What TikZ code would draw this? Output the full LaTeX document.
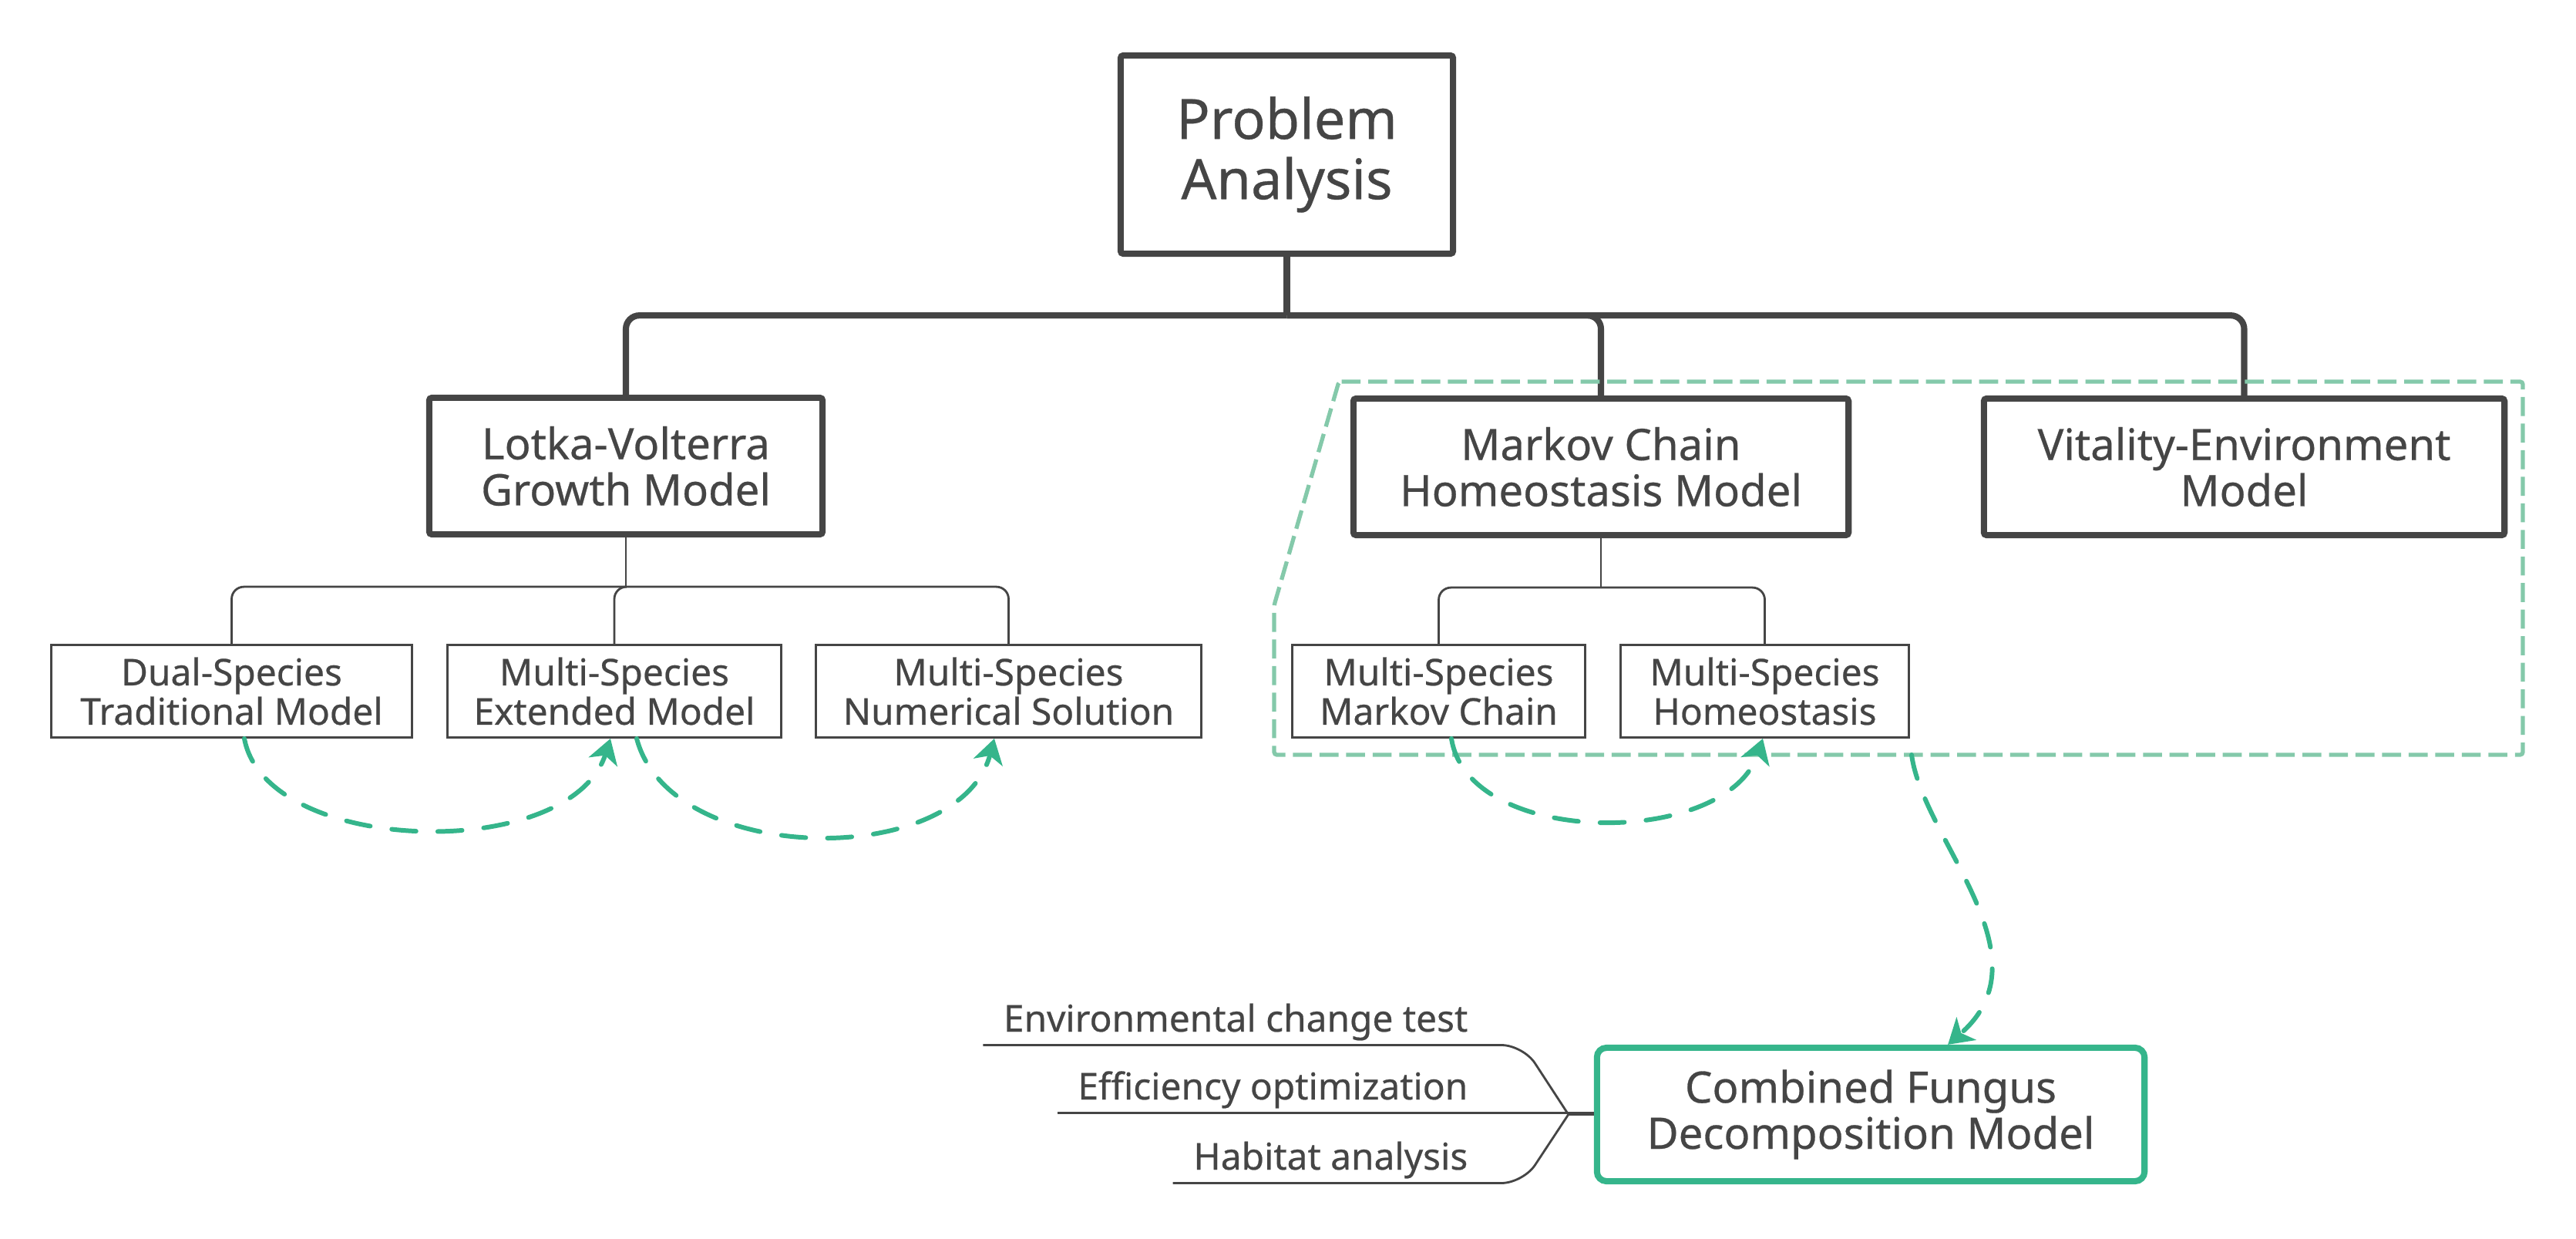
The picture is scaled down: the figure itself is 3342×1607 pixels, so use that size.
\documentclass[tikz,border=0pt]{standalone}
\usepackage{fontspec}
\setmainfont{Noto Sans}[FakeBold=0.5]
\usepackage{tikz}
\usetikzlibrary{arrows.meta,positioning,calc}
\definecolor{ink}{HTML}{454545}
\definecolor{mint}{HTML}{35B58B}
\definecolor{palemint}{HTML}{84C9AA}

\tikzset{
  topic/.style={draw=ink, line width=2.3pt, rounded corners=1pt, align=center,
                text=ink, inner sep=0pt, font=\fontsize{16}{17}\selectfont},
  root/.style={topic, font=\fontsize{20.5}{22.2}\selectfont},
  subtopic/.style={draw=ink, line width=0.8pt, align=center, text=ink,
                   inner sep=0pt, minimum height=1.20cm,
                   font=\fontsize{13.6}{14.5}\selectfont},
  result/.style={topic, draw=mint, rounded corners=3.5pt},
  note/.style={text=ink, inner xsep=0.26cm, inner ysep=0.08cm, text depth=0.25em,
               anchor=base east, font=\fontsize{13.6}{14.5}\selectfont},
  trunk/.style={draw=ink, line width=2.3pt, rounded corners=5pt},
  twig/.style={draw=ink, line width=0.8pt, rounded corners=4.5pt},
  relation/.style={draw=mint, line width=1.7pt, line cap=round,
                   dash pattern=on 9pt off 8pt,
                   -{Stealth[length=9pt,width=11pt,inset=2.5pt]}},
  boundary/.style={draw=palemint, line width=1.5pt,
                   dash pattern=on 7pt off 2.8pt, rounded corners=1pt}
}

\begin{document}
\begin{tikzpicture}[x=0.01cm, y=-0.01cm]
\useasboundingbox (0,0) rectangle (3342,1607);

% main topics
\node[root, minimum width=4.31cm, minimum height=2.57cm] (prob) at (1669.5,200.5) {Problem\\Analysis};
\node[topic, minimum width=5.10cm, minimum height=1.77cm] (lv) at (812,604.5) {Lotka-Volterra\\Growth Model};
\node[topic, minimum width=6.42cm, minimum height=1.77cm] (mc) at (2077,605.5) {Markov Chain\\Homeostasis Model};
\node[topic, minimum width=6.75cm, minimum height=1.77cm] (ve) at (2911.5,605.5) {Vitality-Environment\\Model};

% sub topics
\foreach \n/\x/\w/\t in {dual/300.5/4.68/{Dual-Species\\Traditional Model},
                         ext/797/4.33/{Multi-Species\\Extended Model},
                         num/1308.5/5.00/{Multi-Species\\Numerical Solution},
                         msmc/1866.5/3.80/{Multi-Species\\Markov Chain},
                         msmh/2289.5/3.74/{Multi-Species\\Homeostasis}}
  \node[subtopic, minimum width=\w cm] (\n) at (\x,896.5) {\t};

% tree lines
\coordinate (hub) at ($(prob.south)+(0,76)$);
\draw[trunk] (prob.south) -- (hub);
\foreach \t in {lv,mc,ve}
  \draw[trunk] (hub) -| (\t.north);

\coordinate (lvhub) at ($(lv.south)+(0,64)$);
\draw[twig] (lv.south) -- (lvhub);
\foreach \t in {dual,ext,num}
  \draw[twig] (lvhub) -| (\t.north);

\coordinate (mchub) at ($(mc.south)+(0,64)$);
\draw[twig] (mc.south) -- (mchub);
\foreach \t in {msmc,msmh}
  \draw[twig] (mchub) -| (\t.north);

% boundary round the markov part
\draw[boundary] (1737,495) -- (3273,495) -- (3273,979) -- (1653,979) -- (1653,785) -- cycle;
\coordinate (bnd) at (2480,979);

% combined model
\node[result, minimum width=7.10cm, minimum height=1.73cm] (comb) at (2427,1445.5) {Combined Fungus\\Decomposition Model};

% relations
\draw[relation] ([xshift=0.165cm]dual.south) .. controls (345,1110) and (740,1120) .. ([xshift=-0.05cm]ext.south);
\draw[relation] ([xshift=0.29cm]ext.south) .. controls (870,1125) and (1245,1128) .. ([xshift=-0.185cm]num.south);
\draw[relation] ([xshift=0.165cm]msmc.south) .. controls (1905,1100) and (2240,1100) .. ([xshift=-0.025cm]msmh.south);
\draw[relation] (bnd) .. controls (2495,1090) and (2660,1240) .. ([xshift=1cm]comb.north);

% notes
\node[note] (env) at (1931,1338) {Environmental change test};
\node[note] (eff) at (1931,1426) {Efficiency optimization};
\node[note] (hab) at (1931,1517) {Habitat analysis};
\coordinate (knot) at ($(comb.west)+(-33,0)$);
\draw[twig, rounded corners=8pt] (env.south west) -- ([xshift=0.45cm]env.south east) -- (knot);
\draw[twig] (eff.south west) -- (eff.south west -| comb.west);
\draw[twig, rounded corners=8pt] (hab.south west) -- ([xshift=0.45cm]hab.south east) -- (knot);
\draw[twig] (knot) -- (comb.west);
\end{tikzpicture}
\end{document}
